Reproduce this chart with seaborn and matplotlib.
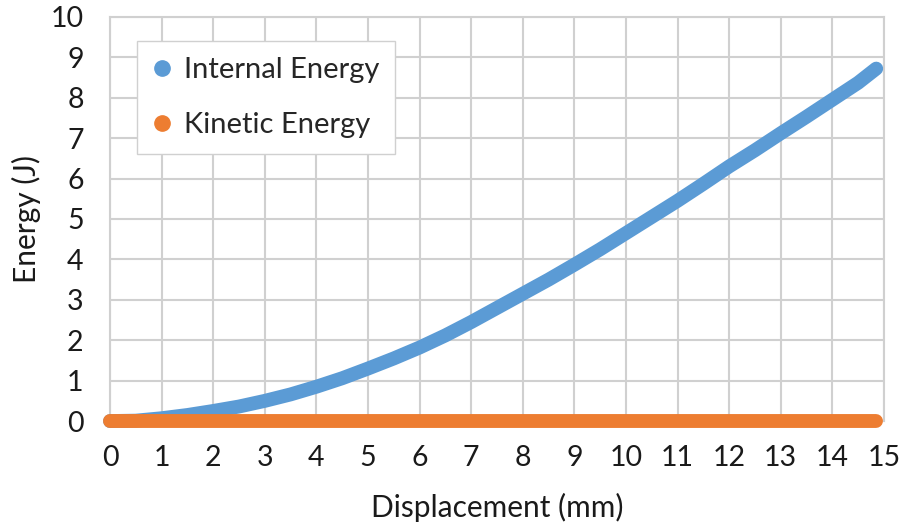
import matplotlib
matplotlib.use("Agg")
import matplotlib.pyplot as plt
from matplotlib.lines import Line2D
import seaborn as sns
import pandas as pd

# Displacement (mm) and energies (J)
displacement = [0, 0.5, 1, 1.5, 2, 2.5, 3, 3.5, 4, 4.5, 5, 5.5, 6, 6.5, 7, 7.5,
                8, 8.5, 9, 9.5, 10, 10.5, 11, 11.5, 12, 12.5, 13, 13.5, 14, 14.5, 14.85]
internal_energy = [0, 0.01, 0.07, 0.15, 0.25, 0.36, 0.5, 0.66, 0.85, 1.06, 1.3, 1.55,
                   1.82, 2.12, 2.45, 2.8, 3.15, 3.5, 3.87, 4.25, 4.65, 5.05, 5.45, 5.87,
                   6.3, 6.7, 7.12, 7.53, 7.95, 8.37, 8.72]
kinetic_energy = [0.0] * len(displacement)

series_names = ["Internal Energy", "Kinetic Energy"]
x_ticks = list(range(0, 16))
y_ticks = list(range(0, 11))

sns.set_theme(style="white")
plt.rcParams["font.family"] = ["Lato", "DejaVu Sans"]

blue = "#5B9BD5"
orange = "#ED7D31"
text_color = "#1a1a1a"

df = pd.DataFrame({"Displacement": displacement,
                   series_names[0]: internal_energy,
                   series_names[1]: kinetic_energy})

fig = plt.figure(figsize=(9.02, 5.27), dpi=100)
ax = fig.add_axes([0.122, 0.201, 0.858, 0.767])

for name, color, z in [(series_names[0], blue, 3), (series_names[1], orange, 4)]:
    sns.lineplot(data=df, x="Displacement", y=name, ax=ax, color=color,
                 linewidth=10, solid_capstyle="round", legend=False,
                 clip_on=False, zorder=z)

ax.set_xlim(0, 15)
ax.set_ylim(0, 10)
ax.set_xticks(x_ticks)
ax.set_yticks(y_ticks)
ax.grid(True, color="#d0d0d0", linewidth=1.5)
ax.set_axisbelow(True)
for s in ax.spines.values():
    s.set_color("#d0d0d0")
    s.set_linewidth(1.5)
ax.tick_params(axis="both", length=0, labelsize=20.5, colors=text_color)
ax.tick_params(axis="x", pad=17)
ax.tick_params(axis="y", pad=19)
ax.set_xlabel("Displacement (mm)", fontsize=21.5, color=text_color, labelpad=16)
ax.set_ylabel("Energy (J)", fontsize=21.5, color=text_color, labelpad=7)

handles = [Line2D([0], [0], marker="o", linestyle="none", markersize=11,
                  markerfacecolor=c, markeredgecolor=c) for c in (blue, orange)]
leg = ax.legend(handles, series_names, loc="upper left",
                bbox_to_anchor=(0.035, 0.94), fontsize=21, frameon=True,
                fancybox=False, edgecolor="#d0d0d0", framealpha=1,
                handletextpad=0.45, labelspacing=1.0, borderpad=0.55,
                handlelength=0.6, borderaxespad=0)
leg.get_frame().set_linewidth(1.0)
leg.set_zorder(10)

fig.savefig("out.png", dpi=100)
